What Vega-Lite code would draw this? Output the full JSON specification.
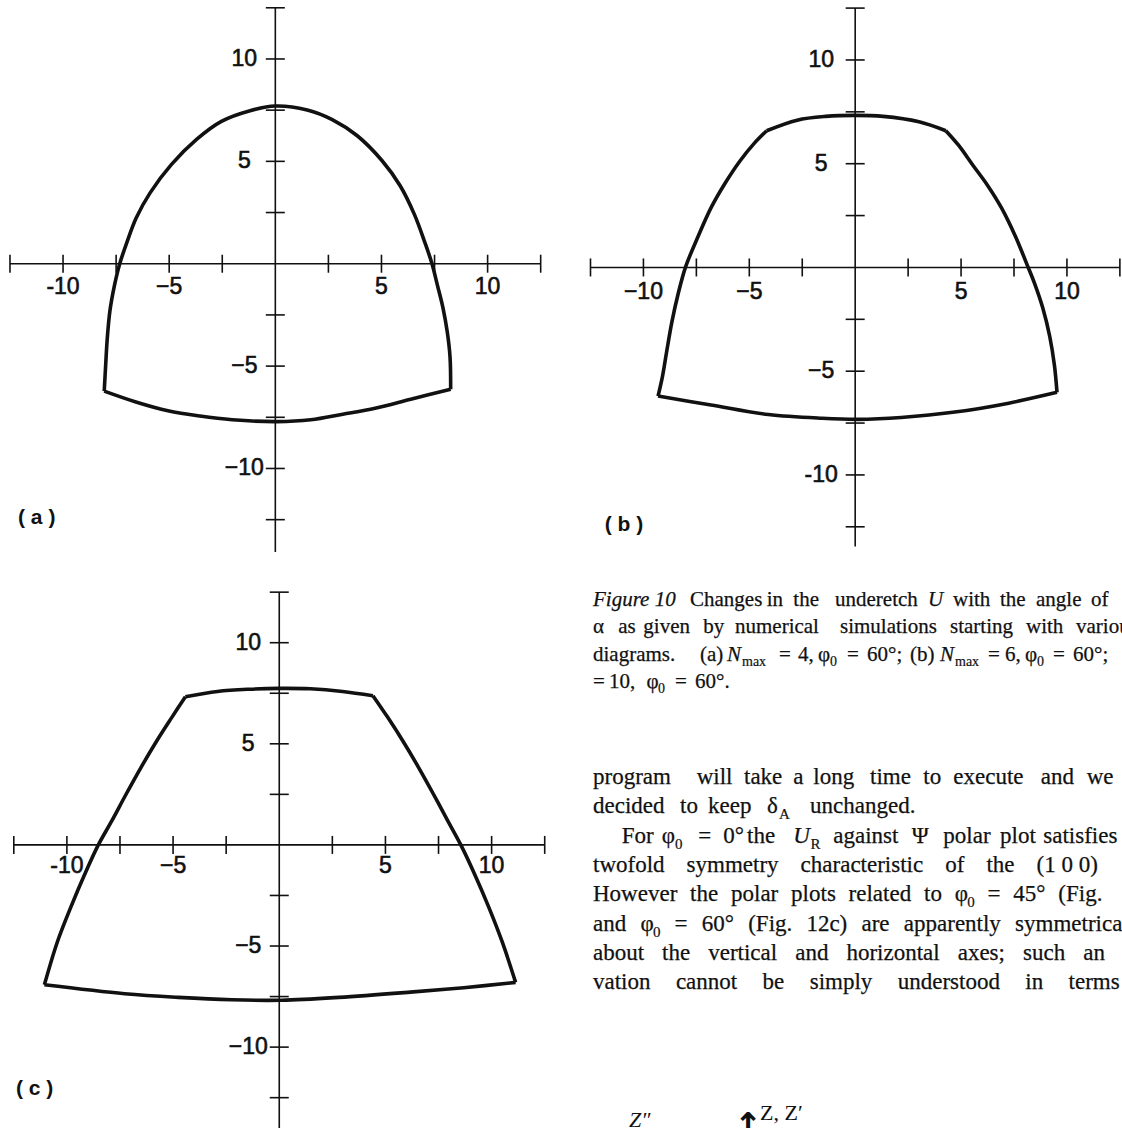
{
  "$schema": "https://vega.github.io/schema/vega-lite/v6.json",
  "background": "white",
  "padding": 0,
  "spacing": 0,
  "bounds": "flush",
  "columns": 2,
  "config": {"view": {"stroke": null}},
  "datasets": {
    "xTicks": [
      {"x": -12.5, "y": 0}, {"x": -10, "y": 0}, {"x": -7.5, "y": 0}, {"x": -5, "y": 0}, {"x": -2.5, "y": 0},
      {"x": 2.5, "y": 0}, {"x": 5, "y": 0}, {"x": 7.5, "y": 0}, {"x": 10, "y": 0}, {"x": 12.5, "y": 0}
    ],
    "yTicks": [
      {"x": 0, "y": 12.5}, {"x": 0, "y": 10}, {"x": 0, "y": 7.5}, {"x": 0, "y": 5}, {"x": 0, "y": 2.5},
      {"x": 0, "y": -2.5}, {"x": 0, "y": -5}, {"x": 0, "y": -7.5}, {"x": 0, "y": -10}, {"x": 0, "y": -12.5}
    ],
    "axisA": [{"x": -12.5, "x2": 12.5, "y": 0, "y2": 0}, {"x": 0, "x2": 0, "y": 12.5, "y2": -14.08}],
    "axisB": [{"x": -12.5, "x2": 12.5, "y": 0, "y2": 0}, {"x": 0, "x2": 0, "y": 12.5, "y2": -13.45}],
    "axisC": [{"x": -12.5, "x2": 12.5, "y": 0, "y2": 0}, {"x": 0, "x2": 0, "y": 12.5, "y2": -14.0}],
    "xLabA": [{"x": -10, "y": 0, "t": "-10"}, {"x": -5, "y": 0, "t": "−5"}, {"x": 5, "y": 0, "t": "5"}, {"x": 10, "y": 0, "t": "10"}],
    "yLabA": [{"x": 0, "y": 10, "t": "10"}, {"x": 0, "y": 5, "t": "5"}, {"x": 0, "y": -5, "t": "−5"}, {"x": 0, "y": -10, "t": "−10"}],
    "xLabB": [{"x": -10, "y": 0, "t": "−10"}, {"x": -5, "y": 0, "t": "−5"}, {"x": 5, "y": 0, "t": "5"}, {"x": 10, "y": 0, "t": "10"}],
    "yLabB": [{"x": 0, "y": 10, "t": "10"}, {"x": 0, "y": 5, "t": "5"}, {"x": 0, "y": -5, "t": "−5"}, {"x": 0, "y": -10, "t": "-10"}],
    "xLabC": [{"x": -10, "y": 0, "t": "-10"}, {"x": -5, "y": 0, "t": "−5"}, {"x": 5, "y": 0, "t": "5"}, {"x": 10, "y": 0, "t": "10"}],
    "yLabC": [{"x": 0, "y": 10, "t": "10"}, {"x": 0, "y": 5, "t": "5"}, {"x": 0, "y": -5, "t": "−5"}, {"x": 0, "y": -10, "t": "−10"}],
    "tagA": [{"x": -12.12, "y": -12.42, "t": "( a )"}],
    "tagB": [{"x": -11.83, "y": -12.41, "t": "( b )"}],
    "tagC": [{"x": -12.4, "y": -12.09, "t": "( c )"}],
    "shapeA": [
      {"seg": "arc", "i": 0, "x": -8.06, "y": -6.22}, {"seg": "arc", "i": 1, "x": -7.99, "y": -4.91},
      {"seg": "arc", "i": 2, "x": -7.92, "y": -3.69}, {"seg": "arc", "i": 3, "x": -7.79, "y": -2.29},
      {"seg": "arc", "i": 4, "x": -7.58, "y": -1.07}, {"seg": "arc", "i": 5, "x": -7.33, "y": 0.0},
      {"seg": "arc", "i": 6, "x": -7.0, "y": 1.02}, {"seg": "arc", "i": 7, "x": -6.55, "y": 2.24},
      {"seg": "arc", "i": 8, "x": -5.9, "y": 3.46}, {"seg": "arc", "i": 9, "x": -4.89, "y": 4.85},
      {"seg": "arc", "i": 10, "x": -3.71, "y": 6.07}, {"seg": "arc", "i": 11, "x": -2.54, "y": 6.95},
      {"seg": "arc", "i": 12, "x": -1.19, "y": 7.47}, {"seg": "arc", "i": 13, "x": 0, "y": 7.7},
      {"seg": "arc", "i": 14, "x": 1.5, "y": 7.51}, {"seg": "arc", "i": 15, "x": 2.68, "y": 7.04},
      {"seg": "arc", "i": 16, "x": 3.86, "y": 6.25}, {"seg": "arc", "i": 17, "x": 5.03, "y": 5.03},
      {"seg": "arc", "i": 18, "x": 5.88, "y": 3.81}, {"seg": "arc", "i": 19, "x": 6.55, "y": 2.41},
      {"seg": "arc", "i": 20, "x": 7.05, "y": 1.02}, {"seg": "arc", "i": 21, "x": 7.38, "y": 0.0},
      {"seg": "arc", "i": 22, "x": 7.64, "y": -1.07}, {"seg": "arc", "i": 23, "x": 7.89, "y": -2.12},
      {"seg": "arc", "i": 24, "x": 8.1, "y": -3.34}, {"seg": "arc", "i": 25, "x": 8.23, "y": -4.56},
      {"seg": "arc", "i": 26, "x": 8.26, "y": -6.13},
      {"seg": "base", "i": 0, "x": -8.06, "y": -6.22}, {"seg": "base", "i": 1, "x": -6.57, "y": -6.75},
      {"seg": "base", "i": 2, "x": -5.06, "y": -7.18}, {"seg": "base", "i": 3, "x": -3.55, "y": -7.44},
      {"seg": "base", "i": 4, "x": -2.03, "y": -7.62}, {"seg": "base", "i": 5, "x": 0.07, "y": -7.71},
      {"seg": "base", "i": 6, "x": 1.67, "y": -7.62}, {"seg": "base", "i": 7, "x": 3.18, "y": -7.35},
      {"seg": "base", "i": 8, "x": 4.7, "y": -7.06}, {"seg": "base", "i": 9, "x": 6.38, "y": -6.62},
      {"seg": "base", "i": 10, "x": 8.26, "y": -6.13}
    ],
    "shapeB": [
      {"seg": "top", "i": 0, "x": -4.18, "y": 6.59}, {"seg": "top", "i": 1, "x": -2.74, "y": 7.1},
      {"seg": "top", "i": 2, "x": -1.39, "y": 7.28}, {"seg": "top", "i": 3, "x": 0, "y": 7.33},
      {"seg": "top", "i": 4, "x": 1.32, "y": 7.28}, {"seg": "top", "i": 5, "x": 3.01, "y": 7.02},
      {"seg": "top", "i": 6, "x": 4.28, "y": 6.59},
      {"seg": "left", "i": 0, "x": -4.18, "y": 6.59}, {"seg": "left", "i": 1, "x": -4.77, "y": 5.98},
      {"seg": "left", "i": 2, "x": -5.45, "y": 5.12}, {"seg": "left", "i": 3, "x": -6.13, "y": 4.08},
      {"seg": "left", "i": 4, "x": -6.81, "y": 2.87}, {"seg": "left", "i": 5, "x": -7.42, "y": 1.49},
      {"seg": "left", "i": 6, "x": -8.0, "y": 0.05}, {"seg": "left", "i": 7, "x": -8.36, "y": -1.27},
      {"seg": "left", "i": 8, "x": -8.66, "y": -2.65}, {"seg": "left", "i": 9, "x": -8.9, "y": -4.04},
      {"seg": "left", "i": 10, "x": -9.1, "y": -5.25}, {"seg": "left", "i": 11, "x": -9.31, "y": -6.2},
      {"seg": "base", "i": 0, "x": -9.31, "y": -6.2}, {"seg": "base", "i": 1, "x": -6.81, "y": -6.63},
      {"seg": "base", "i": 2, "x": -4.1, "y": -7.09}, {"seg": "base", "i": 3, "x": -1.56, "y": -7.27},
      {"seg": "base", "i": 4, "x": 0.14, "y": -7.32}, {"seg": "base", "i": 5, "x": 2.17, "y": -7.23},
      {"seg": "base", "i": 6, "x": 4.71, "y": -6.97}, {"seg": "base", "i": 7, "x": 7.25, "y": -6.54},
      {"seg": "base", "i": 8, "x": 9.53, "y": -6.02},
      {"seg": "right", "i": 0, "x": 9.53, "y": -6.02}, {"seg": "right", "i": 1, "x": 9.41, "y": -4.73},
      {"seg": "right", "i": 2, "x": 9.19, "y": -3.34}, {"seg": "right", "i": 3, "x": 8.86, "y": -1.96},
      {"seg": "right", "i": 4, "x": 8.47, "y": -0.77}, {"seg": "right", "i": 5, "x": 8.13, "y": 0.1},
      {"seg": "right", "i": 6, "x": 7.57, "y": 1.49}, {"seg": "right", "i": 7, "x": 6.91, "y": 2.87},
      {"seg": "right", "i": 8, "x": 6.23, "y": 3.99}, {"seg": "right", "i": 9, "x": 5.55, "y": 4.94},
      {"seg": "right", "i": 10, "x": 4.88, "y": 5.89}, {"seg": "right", "i": 11, "x": 4.28, "y": 6.59}
    ],
    "shapeC": [
      {"seg": "top", "i": 0, "x": -4.42, "y": 7.33}, {"seg": "top", "i": 1, "x": -2.91, "y": 7.59},
      {"seg": "top", "i": 2, "x": -1.4, "y": 7.7}, {"seg": "top", "i": 3, "x": 0, "y": 7.74},
      {"seg": "top", "i": 4, "x": 1.46, "y": 7.72}, {"seg": "top", "i": 5, "x": 2.98, "y": 7.59},
      {"seg": "top", "i": 6, "x": 4.41, "y": 7.38},
      {"seg": "left", "i": 0, "x": -4.42, "y": 7.33}, {"seg": "left", "i": 1, "x": -5.05, "y": 6.32},
      {"seg": "left", "i": 2, "x": -5.8, "y": 5.09}, {"seg": "left", "i": 3, "x": -6.5, "y": 3.85},
      {"seg": "left", "i": 4, "x": -7.2, "y": 2.53}, {"seg": "left", "i": 5, "x": -7.88, "y": 1.2},
      {"seg": "left", "i": 6, "x": -8.52, "y": 0.0}, {"seg": "left", "i": 7, "x": -9.16, "y": -1.45},
      {"seg": "left", "i": 8, "x": -9.8, "y": -3.04}, {"seg": "left", "i": 9, "x": -10.45, "y": -4.8},
      {"seg": "left", "i": 10, "x": -11.06, "y": -6.92},
      {"seg": "base", "i": 0, "x": -11.06, "y": -6.92}, {"seg": "base", "i": 1, "x": -7.28, "y": -7.36},
      {"seg": "base", "i": 2, "x": -4.76, "y": -7.54}, {"seg": "base", "i": 3, "x": -2.24, "y": -7.66},
      {"seg": "base", "i": 4, "x": 0.12, "y": -7.68}, {"seg": "base", "i": 5, "x": 2.81, "y": -7.54},
      {"seg": "base", "i": 6, "x": 6.17, "y": -7.28}, {"seg": "base", "i": 7, "x": 8.69, "y": -7.06},
      {"seg": "base", "i": 8, "x": 11.13, "y": -6.8},
      {"seg": "right", "i": 0, "x": 11.13, "y": -6.8}, {"seg": "right", "i": 1, "x": 10.5, "y": -4.8},
      {"seg": "right", "i": 2, "x": 9.85, "y": -3.04}, {"seg": "right", "i": 3, "x": 9.2, "y": -1.45},
      {"seg": "right", "i": 4, "x": 8.55, "y": 0.0}, {"seg": "right", "i": 5, "x": 7.93, "y": 1.2},
      {"seg": "right", "i": 6, "x": 7.25, "y": 2.53}, {"seg": "right", "i": 7, "x": 6.55, "y": 3.85},
      {"seg": "right", "i": 8, "x": 5.85, "y": 5.09}, {"seg": "right", "i": 9, "x": 5.1, "y": 6.32},
      {"seg": "right", "i": 10, "x": 4.41, "y": 7.38}
    ],
    "capRoman": [
      {"ln": 1, "col": 97, "t": "Changes"}, {"ln": 1, "col": 173.7, "t": "in"}, {"ln": 1, "col": 200.3, "t": "the"},
      {"ln": 1, "col": 242, "t": "underetch"}, {"ln": 1, "col": 360, "t": "with"}, {"ln": 1, "col": 407, "t": "the"},
      {"ln": 1, "col": 443, "t": "angle"}, {"ln": 1, "col": 498, "t": "of"},
      {"ln": 2, "col": 0, "t": "α"}, {"ln": 2, "col": 25.3, "t": "as"}, {"ln": 2, "col": 50.3, "t": "given"},
      {"ln": 2, "col": 110.3, "t": "by"}, {"ln": 2, "col": 142, "t": "numerical"}, {"ln": 2, "col": 247, "t": "simulations"},
      {"ln": 2, "col": 357, "t": "starting"}, {"ln": 2, "col": 433, "t": "with"}, {"ln": 2, "col": 483, "t": "various"},
      {"ln": 3, "col": 0, "t": "diagrams."}, {"ln": 3, "col": 107, "t": "(a)"}, {"ln": 3, "col": 186, "t": "="},
      {"ln": 3, "col": 205, "t": "4,"}, {"ln": 3, "col": 225, "t": "φ"}, {"ln": 3, "col": 254, "t": "="},
      {"ln": 3, "col": 274, "t": "60°;"}, {"ln": 3, "col": 317, "t": "(b)"}, {"ln": 3, "col": 395, "t": "="},
      {"ln": 3, "col": 412, "t": "6,"}, {"ln": 3, "col": 432, "t": "φ"}, {"ln": 3, "col": 460, "t": "="},
      {"ln": 3, "col": 480, "t": "60°;"},
      {"ln": 4, "col": 0, "t": "="}, {"ln": 4, "col": 16, "t": "10,"}, {"ln": 4, "col": 53.4, "t": "φ"},
      {"ln": 4, "col": 82, "t": "="}, {"ln": 4, "col": 102, "t": "60°."}
    ],
    "capItalic": [
      {"ln": 1, "col": 0, "t": "Figure 10"}, {"ln": 1, "col": 335, "t": "U"},
      {"ln": 3, "col": 134, "t": "N"}, {"ln": 3, "col": 347, "t": "N"}
    ],
    "capSub": [
      {"ln": 3, "col": 149, "t": "max"}, {"ln": 3, "col": 237, "t": "0"},
      {"ln": 3, "col": 362, "t": "max"}, {"ln": 3, "col": 444, "t": "0"}, {"ln": 4, "col": 65, "t": "0"}
    ],
    "bodyRoman": [
      {"ln": 1, "col": 0, "t": "program"}, {"ln": 1, "col": 103.7, "t": "will"}, {"ln": 1, "col": 151, "t": "take"},
      {"ln": 1, "col": 200.3, "t": "a"}, {"ln": 1, "col": 220.3, "t": "long"}, {"ln": 1, "col": 277, "t": "time"},
      {"ln": 1, "col": 330.3, "t": "to"}, {"ln": 1, "col": 360.3, "t": "execute"}, {"ln": 1, "col": 447.7, "t": "and"},
      {"ln": 1, "col": 493.7, "t": "we"},
      {"ln": 2, "col": 0, "t": "decided"}, {"ln": 2, "col": 87, "t": "to"}, {"ln": 2, "col": 115, "t": "keep"},
      {"ln": 2, "col": 174, "t": "δ"}, {"ln": 2, "col": 217, "t": "unchanged."},
      {"ln": 3, "col": 28.7, "t": "For"}, {"ln": 3, "col": 68.7, "t": "φ"}, {"ln": 3, "col": 105.3, "t": "="},
      {"ln": 3, "col": 130.3, "t": "0°"}, {"ln": 3, "col": 154, "t": "the"}, {"ln": 3, "col": 240.3, "t": "against"},
      {"ln": 3, "col": 318.7, "t": "Ψ"}, {"ln": 3, "col": 350.3, "t": "polar"}, {"ln": 3, "col": 407, "t": "plot"},
      {"ln": 3, "col": 450.3, "t": "satisfies"},
      {"ln": 4, "col": 0, "t": "twofold"}, {"ln": 4, "col": 93.6, "t": "symmetry"}, {"ln": 4, "col": 207.6, "t": "characteristic"},
      {"ln": 4, "col": 352.2, "t": "of"}, {"ln": 4, "col": 393.4, "t": "the"}, {"ln": 4, "col": 443.5, "t": "(1 0 0)"},
      {"ln": 5, "col": 0, "t": "However"}, {"ln": 5, "col": 97.1, "t": "the"}, {"ln": 5, "col": 138, "t": "polar"},
      {"ln": 5, "col": 198.1, "t": "plots"}, {"ln": 5, "col": 255.6, "t": "related"}, {"ln": 5, "col": 331, "t": "to"},
      {"ln": 5, "col": 361.7, "t": "φ"}, {"ln": 5, "col": 394.5, "t": "="}, {"ln": 5, "col": 420.3, "t": "45°"},
      {"ln": 5, "col": 465.3, "t": "(Fig."},
      {"ln": 6, "col": 0, "t": "and"}, {"ln": 6, "col": 47.4, "t": "φ"}, {"ln": 6, "col": 81.6, "t": "="},
      {"ln": 6, "col": 108.8, "t": "60°"}, {"ln": 6, "col": 155.2, "t": "(Fig."}, {"ln": 6, "col": 213.4, "t": "12c)"},
      {"ln": 6, "col": 268.5, "t": "are"}, {"ln": 6, "col": 310.8, "t": "apparently"}, {"ln": 6, "col": 422.1, "t": "symmetrical"},
      {"ln": 7, "col": 0, "t": "about"}, {"ln": 7, "col": 69.1, "t": "the"}, {"ln": 7, "col": 115.2, "t": "vertical"},
      {"ln": 7, "col": 202.2, "t": "and"}, {"ln": 7, "col": 253.4, "t": "horizontal"}, {"ln": 7, "col": 364.7, "t": "axes;"},
      {"ln": 7, "col": 430, "t": "such"}, {"ln": 7, "col": 490.2, "t": "an"},
      {"ln": 8, "col": 0, "t": "vation"}, {"ln": 8, "col": 82.9, "t": "cannot"}, {"ln": 8, "col": 169.6, "t": "be"},
      {"ln": 8, "col": 216.7, "t": "simply"}, {"ln": 8, "col": 304.7, "t": "understood"}, {"ln": 8, "col": 432.3, "t": "in"},
      {"ln": 8, "col": 475.6, "t": "terms"}
    ],
    "bodyItalic": [{"ln": 3, "col": 200.3, "t": "U"}],
    "bodySub": [
      {"ln": 2, "col": 186, "t": "A"}, {"ln": 3, "col": 82, "t": "0"}, {"ln": 3, "col": 217.5, "t": "R"},
      {"ln": 5, "col": 374.2, "t": "0"}, {"ln": 6, "col": 59.9, "t": "0"}
    ],
    "zItalic": [{"ln": 12.7, "col": 36, "t": "Z″"}],
    "zRoman": [{"ln": 12.47, "col": 167, "t": "Z, Z′"}],
    "zArrow": [{"ln": 13.05, "col": 141, "t": "↑"}]
  },
  "concat": [
    {
      "width": 560,
      "height": 560,
      "encoding": {
        "x": {"field": "x", "type": "quantitative", "scale": {"domain": [-12.97, 13.41], "nice": false, "zero": false}, "axis": null},
        "y": {"field": "y", "type": "quantitative", "scale": {"domain": [-14.47, 12.88], "nice": false, "zero": false}, "axis": null}
      },
      "layer": [
        {"data": {"name": "axisA"}, "mark": {"type": "rule", "color": "#111", "strokeWidth": 1.6}, "encoding": {"x2": {"field": "x2"}, "y2": {"field": "y2"}}},
        {"data": {"name": "xTicks"}, "mark": {"type": "tick", "orient": "vertical", "size": 18, "thickness": 1.6, "color": "#111", "opacity": 1}},
        {"data": {"name": "yTicks"}, "mark": {"type": "tick", "orient": "horizontal", "size": 19, "thickness": 1.6, "color": "#111", "opacity": 1}},
        {"data": {"name": "xLabA"}, "mark": {"type": "text", "font": "Liberation Sans", "fontSize": 23, "dy": 23, "align": "center", "baseline": "middle", "color": "#111", "stroke": "#111", "strokeWidth": 0.6}, "encoding": {"text": {"field": "t"}}},
        {"data": {"name": "yLabA"}, "mark": {"type": "text", "font": "Liberation Sans", "fontSize": 23, "dx": -31, "align": "center", "baseline": "middle", "color": "#111", "stroke": "#111", "strokeWidth": 0.6}, "encoding": {"text": {"field": "t"}}},
        {"data": {"name": "shapeA"}, "mark": {"type": "line", "color": "#111", "strokeWidth": 3.6, "strokeJoin": "round", "interpolate": "catmull-rom"}, "encoding": {"detail": {"field": "seg"}, "order": {"field": "i", "type": "quantitative"}}},
        {"data": {"name": "tagA"}, "mark": {"type": "text", "font": "Liberation Sans", "fontWeight": "bold", "fontSize": 21, "align": "left", "baseline": "middle", "color": "#111"}, "encoding": {"text": {"field": "t"}}}
      ]
    },
    {
      "width": 562,
      "height": 560,
      "encoding": {
        "x": {"field": "x", "type": "quantitative", "scale": {"domain": [-13.94, 12.6], "nice": false, "zero": false}, "axis": null},
        "y": {"field": "y", "type": "quantitative", "scale": {"domain": [-14.1, 12.89], "nice": false, "zero": false}, "axis": null}
      },
      "layer": [
        {"data": {"name": "axisB"}, "mark": {"type": "rule", "color": "#111", "strokeWidth": 1.6}, "encoding": {"x2": {"field": "x2"}, "y2": {"field": "y2"}}},
        {"data": {"name": "xTicks"}, "mark": {"type": "tick", "orient": "vertical", "size": 18, "thickness": 1.6, "color": "#111", "opacity": 1}},
        {"data": {"name": "yTicks"}, "mark": {"type": "tick", "orient": "horizontal", "size": 19, "thickness": 1.6, "color": "#111", "opacity": 1}},
        {"data": {"name": "xLabB"}, "mark": {"type": "text", "font": "Liberation Sans", "fontSize": 23, "dy": 25, "align": "center", "baseline": "middle", "color": "#111", "stroke": "#111", "strokeWidth": 0.6}, "encoding": {"text": {"field": "t"}}},
        {"data": {"name": "yLabB"}, "mark": {"type": "text", "font": "Liberation Sans", "fontSize": 23, "dx": -34, "align": "center", "baseline": "middle", "color": "#111", "stroke": "#111", "strokeWidth": 0.6}, "encoding": {"text": {"field": "t"}}},
        {"data": {"name": "shapeB"}, "mark": {"type": "line", "color": "#111", "strokeWidth": 3.6, "strokeJoin": "round", "interpolate": "catmull-rom"}, "encoding": {"detail": {"field": "seg"}, "order": {"field": "i", "type": "quantitative"}}},
        {"data": {"name": "tagB"}, "mark": {"type": "text", "font": "Liberation Sans", "fontWeight": "bold", "fontSize": 21, "align": "left", "baseline": "middle", "color": "#111"}, "encoding": {"text": {"field": "t"}}}
      ]
    },
    {
      "width": 560,
      "height": 568,
      "encoding": {
        "x": {"field": "x", "type": "quantitative", "scale": {"domain": [-13.15, 13.22], "nice": false, "zero": false}, "axis": null},
        "y": {"field": "y", "type": "quantitative", "scale": {"domain": [-14.0, 14.09], "nice": false, "zero": false}, "axis": null}
      },
      "layer": [
        {"data": {"name": "axisC"}, "mark": {"type": "rule", "color": "#111", "strokeWidth": 1.6}, "encoding": {"x2": {"field": "x2"}, "y2": {"field": "y2"}}},
        {"data": {"name": "xTicks"}, "mark": {"type": "tick", "orient": "vertical", "size": 18, "thickness": 1.6, "color": "#111", "opacity": 1}},
        {"data": {"name": "yTicks"}, "mark": {"type": "tick", "orient": "horizontal", "size": 19, "thickness": 1.6, "color": "#111", "opacity": 1}},
        {"data": {"name": "xLabC"}, "mark": {"type": "text", "font": "Liberation Sans", "fontSize": 23, "dy": 21, "align": "center", "baseline": "middle", "color": "#111", "stroke": "#111", "strokeWidth": 0.6}, "encoding": {"text": {"field": "t"}}},
        {"data": {"name": "yLabC"}, "mark": {"type": "text", "font": "Liberation Sans", "fontSize": 23, "dx": -31, "align": "center", "baseline": "middle", "color": "#111", "stroke": "#111", "strokeWidth": 0.6}, "encoding": {"text": {"field": "t"}}},
        {"data": {"name": "shapeC"}, "mark": {"type": "line", "color": "#111", "strokeWidth": 3.6, "strokeJoin": "round", "interpolate": "catmull-rom"}, "encoding": {"detail": {"field": "seg"}, "order": {"field": "i", "type": "quantitative"}}},
        {"data": {"name": "tagC"}, "mark": {"type": "text", "font": "Liberation Sans", "fontWeight": "bold", "fontSize": 21, "align": "left", "baseline": "middle", "color": "#111"}, "encoding": {"text": {"field": "t"}}}
      ]
    },
    {
      "width": 562,
      "height": 568,
      "resolve": {"scale": {"y": "independent"}},
      "encoding": {
        "x": {"field": "col", "type": "quantitative", "scale": {"domain": [-33, 529], "nice": false, "zero": false}, "axis": null},
        "text": {"field": "t"}
      },
      "layer": [
        {
          "data": {"name": "capRoman"},
          "mark": {"type": "text", "font": "Liberation Serif", "fontSize": 21, "align": "left", "baseline": "alphabetic", "color": "#111", "stroke": "#111", "strokeWidth": 0.25, "clip": true},
          "encoding": {"y": {"field": "ln", "type": "quantitative", "scale": {"domain": [1, 4], "range": [46, 128], "nice": false, "zero": false}, "axis": null}}
        },
        {
          "data": {"name": "capItalic"},
          "mark": {"type": "text", "font": "Liberation Serif", "fontStyle": "italic", "fontSize": 21, "align": "left", "baseline": "alphabetic", "color": "#111", "stroke": "#111", "strokeWidth": 0.25, "clip": true},
          "encoding": {"y": {"field": "ln", "type": "quantitative", "scale": {"domain": [1, 4], "range": [46, 128], "nice": false, "zero": false}, "axis": null}}
        },
        {
          "data": {"name": "capSub"},
          "mark": {"type": "text", "font": "Liberation Serif", "fontSize": 14, "dy": 5, "align": "left", "baseline": "alphabetic", "color": "#111", "stroke": "#111", "strokeWidth": 0.2, "clip": true},
          "encoding": {"y": {"field": "ln", "type": "quantitative", "scale": {"domain": [1, 4], "range": [46, 128], "nice": false, "zero": false}, "axis": null}}
        },
        {
          "data": {"name": "bodyRoman"},
          "mark": {"type": "text", "font": "Liberation Serif", "fontSize": 23, "align": "left", "baseline": "alphabetic", "color": "#111", "stroke": "#111", "strokeWidth": 0.25, "clip": true},
          "encoding": {"y": {"field": "ln", "type": "quantitative", "scale": {"domain": [1, 8], "range": [224, 429.1], "nice": false, "zero": false}, "axis": null}}
        },
        {
          "data": {"name": "bodyItalic"},
          "mark": {"type": "text", "font": "Liberation Serif", "fontStyle": "italic", "fontSize": 23, "align": "left", "baseline": "alphabetic", "color": "#111", "stroke": "#111", "strokeWidth": 0.25, "clip": true},
          "encoding": {"y": {"field": "ln", "type": "quantitative", "scale": {"domain": [1, 8], "range": [224, 429.1], "nice": false, "zero": false}, "axis": null}}
        },
        {
          "data": {"name": "bodySub"},
          "mark": {"type": "text", "font": "Liberation Serif", "fontSize": 15, "dy": 6, "align": "left", "baseline": "alphabetic", "color": "#111", "stroke": "#111", "strokeWidth": 0.2, "clip": true},
          "encoding": {"y": {"field": "ln", "type": "quantitative", "scale": {"domain": [1, 8], "range": [224, 429.1], "nice": false, "zero": false}, "axis": null}}
        },
        {
          "data": {"name": "zItalic"},
          "mark": {"type": "text", "font": "Liberation Serif", "fontStyle": "italic", "fontSize": 22, "align": "left", "baseline": "alphabetic", "color": "#111", "clip": true},
          "encoding": {"y": {"field": "ln", "type": "quantitative", "scale": {"domain": [1, 8], "range": [224, 429.1], "nice": false, "zero": false}, "axis": null}}
        },
        {
          "data": {"name": "zRoman"},
          "mark": {"type": "text", "font": "Liberation Serif", "fontSize": 22, "align": "left", "baseline": "alphabetic", "color": "#111", "clip": true},
          "encoding": {"y": {"field": "ln", "type": "quantitative", "scale": {"domain": [1, 8], "range": [224, 429.1], "nice": false, "zero": false}, "axis": null}}
        },
        {
          "data": {"name": "zArrow"},
          "mark": {"type": "text", "font": "DejaVu Sans", "fontWeight": "bold", "fontSize": 34, "align": "left", "baseline": "alphabetic", "color": "#111", "clip": true},
          "encoding": {"y": {"field": "ln", "type": "quantitative", "scale": {"domain": [1, 8], "range": [224, 429.1], "nice": false, "zero": false}, "axis": null}}
        }
      ]
    }
  ]
}
